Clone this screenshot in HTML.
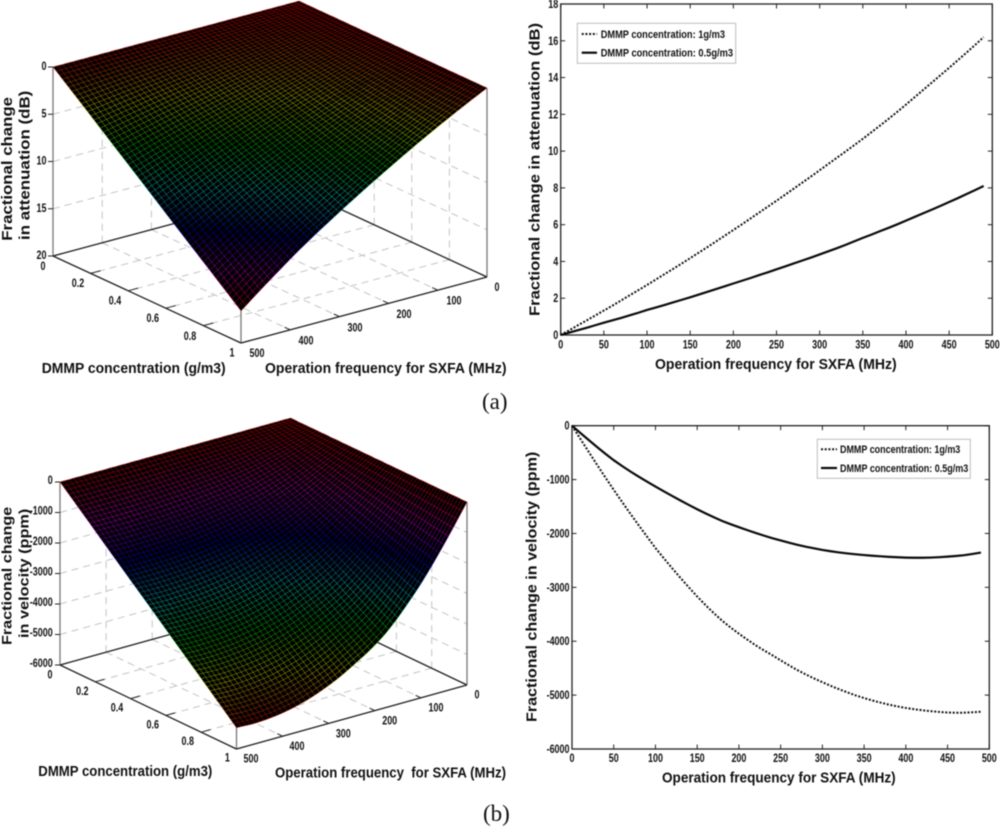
<!DOCTYPE html>
<html lang="en">
<head>
<meta charset="utf-8">
<title>DMMP fractional change charts</title>
<style>
html,body{margin:0;padding:0;background:#fff;}
svg{display:block;filter:blur(0.45px);}
text{font-family:"Liberation Sans",Arial,sans-serif;font-weight:bold;fill:#111;}
.cap{font-family:"Liberation Serif","Times New Roman",serif;font-weight:normal;}
</style>
</head>
<body>
<svg id="figure" xmlns="http://www.w3.org/2000/svg" width="1000" height="828" viewBox="0 0 1000 828">
  <rect width="1000" height="828" fill="#ffffff"/>
  <text class="cap" x="482" y="409" font-size="23">(a)</text>
  <text class="cap" x="483" y="821" font-size="23">(b)</text>
</svg>
<script>
// ---------- Data ----------
const freqSamples = [0,10,20,30,40,50,60,70,80,90,100,110,120,130,140,150,160,170,180,190,200,210,220,230,240,250,260,270,280,290,300,310,320,330,340,350,360,370,380,390,400,410,420,430,440,450,460,470,480,490];
const atten1g = [0,.26,.53,.79,1.06,1.33,1.6,1.88,2.16,2.44,2.72,3.01,3.3,3.59,3.88,4.18,4.48,4.78,5.09,5.4,5.71,6.02,6.34,6.66,6.98,7.3,7.63,7.96,8.29,8.62,8.96,9.3,9.64,9.98,10.32,10.67,11.03,11.39,11.76,12.14,12.53,12.93,13.33,13.73,14.13,14.53,14.94,15.35,15.77,16.2];
const atten05g = [0,.13,.26,.39,.53,.67,.8,.93,1.07,1.21,1.36,1.49,1.63,1.77,1.91,2.05,2.2,2.35,2.5,2.65,2.8,2.95,3.1,3.26,3.41,3.57,3.73,3.89,4.05,4.21,4.38,4.55,4.72,4.9,5.09,5.28,5.46,5.65,5.83,6.02,6.22,6.42,6.62,6.82,7.02,7.23,7.44,7.66,7.88,8.1];
const velocity1g = [0,-245,-485,-725,-960,-1190,-1415,-1635,-1850,-2060,-2270,-2460,-2645,-2825,-3000,-3170,-3330,-3480,-3620,-3745,-3860,-3970,-4075,-4170,-4260,-4355,-4447,-4535,-4615,-4690,-4760,-4828,-4890,-4950,-5005,-5055,-5100,-5140,-5178,-5210,-5238,-5262,-5282,-5298,-5312,-5322,-5327,-5326,-5318,-5308];
const velocity05g = [0,-135,-265,-395,-520,-640,-748,-850,-947,-1040,-1130,-1218,-1304,-1388,-1470,-1550,-1627,-1700,-1768,-1828,-1884,-1938,-1990,-2040,-2087,-2130,-2172,-2210,-2245,-2276,-2305,-2330,-2352,-2371,-2387,-2401,-2413,-2424,-2434,-2442,-2448,-2451,-2451,-2447,-2440,-2430,-2418,-2403,-2380,-2355];
const surfaceFreqEnd = 500;
const surfaceAttenEnd = 16.6;
const surfaceVelocityEnd = -5305;
const concSamples = [0,.017,.033,.05,.067,.083,.1,.117,.133,.15,.167,.183,.2,.217,.233,.25,.267,.283,.3,.317,.333,.35,.367,.383,.4,.417,.433,.45,.467,.483,.5,.517,.533,.55,.567,.583,.6,.617,.633,.65,.667,.683,.7,.717,.733,.75,.767,.783,.8,.817,.833,.85,.867,.883,.9,.917,.933,.95,.967,.983,1];
const freqTicks = [0,50,100,150,200,250,300,350,400,450,500];
const attenTicks = [0,2,4,6,8,10,12,14,16,18];
const velocityTicks = [0,-1000,-2000,-3000,-4000,-5000,-6000];
const surfFreqTicks = [0,100,200,300,400,500];
const surfConcTicks = [0,.2,.4,.6,.8,1];
const surfAttenTicks = [0,5,10,15,20];
const surfVelocityTicks = [0,-1000,-2000,-3000,-4000,-5000,-6000];
const legendLabels = ["DMMP concentration: 1g/m3","DMMP concentration: 0.5g/m3"];

// ---------- Helpers ----------
const NS = "http://www.w3.org/2000/svg";
const root = document.getElementById("figure");
function mk(parent, tag, attrs, name) {
  const el = document.createElementNS(NS, tag);
  for (const k in attrs) el.setAttribute(k, attrs[k]);
  
  
  parent.appendChild(el);
  return el;
}
function line(p, x1, y1, x2, y2, stroke, w, name, dash) {
  const a = {x1: x1, y1: y1, x2: x2, y2: y2, stroke: stroke, "stroke-width": w};
  if (dash) a["stroke-dasharray"] = dash;
  return mk(p, "line", a, name);
}
function tickText(p, str, x, y, anchor, name) {
  const t = mk(p, "text", {transform: "translate(" + x + "," + (y + 4) + ") scale(.78,1)", "font-size": 11.5, "text-anchor": anchor}, name);
  t.textContent = str;
  return t;
}
function title(p, str, x, y, len, size, name, rotated) {
  const a = {x: x, y: y, "font-size": size, textLength: len, lengthAdjust: "spacingAndGlyphs"};
  if (rotated) a.transform = "rotate(-90 " + x + " " + y + ")";
  const t = mk(p, "text", a, name);
  t.setAttributeNS("http://www.w3.org/XML/1998/namespace", "xml:space", "preserve");
  t.textContent = str;
  return t;
}

// ---------- 2D line chart ----------
function drawChart(c) {
  const g = mk(root, "g", {}, c.name);
  const xS = f => c.left + (f - 0) / 500 * (c.right - c.left);
  const yS = v => c.bottom - (v - c.yMin) / (c.yMax - c.yMin) * (c.bottom - c.top);
  mk(g, "rect", {x: c.left, y: c.top, width: c.right - c.left, height: c.bottom - c.top, fill: "none", stroke: "#222", "stroke-width": 1.3}, "plot-frame");
  freqTicks.forEach(f => {
    line(g, xS(f), c.bottom, xS(f), c.bottom - 4.5, "#222", 1, "x-tick");
    line(g, xS(f), c.top, xS(f), c.top + 4.5, "#222", 1, "x-tick-top");
    tickText(g, String(f), xS(f), c.xLabelY, "middle", "x-tick-label");
  });
  c.ticks.forEach(v => {
    line(g, c.left, yS(v), c.left + 4.5, yS(v), "#222", 1, "y-tick");
    line(g, c.right, yS(v), c.right - 4.5, yS(v), "#222", 1, "y-tick-right");
    tickText(g, String(v), c.left - 2.5, yS(v), "end", "y-tick-label");
  });
  const pts = arr => arr.map((v, i) => xS(freqSamples[i]).toFixed(2) + "," + yS(v).toFixed(2)).join(" ");
  mk(g, "polyline", {points: pts(c.s1), fill: "none", stroke: "#111", "stroke-width": 2, "stroke-dasharray": "2 1.7"}, "series-1g-per-m3");
  mk(g, "polyline", {points: pts(c.s2), fill: "none", stroke: "#0a0a0a", "stroke-width": 2.2}, "series-0-5g-per-m3");
  title(g, c.xTitle[0], c.xTitle[1], c.xTitle[2], c.xTitle[3], 15, "x-axis-title");
  title(g, c.yTitle[0], c.yTitle[1], c.yTitle[2], c.yTitle[3], 15, "y-axis-title", true);
  const L = c.legend;
  const lg = mk(g, "g", {}, "legend");
  mk(lg, "rect", {x: L.x, y: L.y, width: L.w, height: L.h, fill: "#fff", stroke: "#bdbdbd", "stroke-width": 1}, "legend-box");
  line(lg, L.sx1, L.ly1, L.sx2, L.ly1, "#111", 2, "legend-sample-1g", "2 1.7");
  line(lg, L.sx1, L.ly2, L.sx2, L.ly2, "#0a0a0a", 2.2, "legend-sample-0-5g");
  title(lg, legendLabels[0], L.tx, L.ly1 + 3.9, L.tw1, 11, "legend-entry-1g");
  title(lg, legendLabels[1], L.tx, L.ly2 + 3.9, L.tw2, 11, "legend-entry-0-5g");
}

// ---------- 3D surface ----------
function drawSurface(c) {
  const g = mk(root, "g", {}, c.name);
  const X = (cn, f) => c.O[0] + cn * c.cV[0] + f / 500 * c.fV[0];
  const Y = (cn, f, z) => c.O[1] + cn * c.cV[1] + f / 500 * c.fV[1] - (c.zFrac(z)) * c.H;
  const floorY = (cn, f) => c.O[1] + cn * c.cV[1] + f / 500 * c.fV[1];
  const gridC = "#c4c4c4", dash = "7 5";

  // walls and floor grid
  c.zTicks.forEach(z => {
    const d = c.zFrac(z) * c.H;
    if (d > 0.1) {
      line(g, X(0, 500), floorY(0, 500) - d, X(0, 0), floorY(0, 0) - d, gridC, 1, "wall-grid-line", dash);
      line(g, X(0, 0), floorY(0, 0) - d, X(1, 0), floorY(1, 0) - d, gridC, 1, "wall-grid-line", dash);
    }
  });
  surfFreqTicks.slice(1, -1).forEach(f => {
    line(g, X(0, f), floorY(0, f), X(0, f), floorY(0, f) - c.H, gridC, 1, "wall-grid-line", dash);
    line(g, X(0, f), floorY(0, f), X(1, f), floorY(1, f), gridC, 1, "floor-grid-line", dash);
  });
  surfConcTicks.slice(1, -1).forEach(cn => {
    line(g, X(cn, 0), floorY(cn, 0), X(cn, 0), floorY(cn, 0) - c.H, gridC, 1, "wall-grid-line", dash);
    line(g, X(cn, 0), floorY(cn, 0), X(cn, 500), floorY(cn, 500), gridC, 1, "floor-grid-line", dash);
  });

  // box edges
  line(g, X(0, 500), floorY(0, 500), X(0, 0), floorY(0, 0), "#222", 1.3, "back-floor-edge");
  line(g, X(0, 0), floorY(0, 0), X(1, 0), floorY(1, 0), "#222", 1.3, "back-floor-edge");
  line(g, X(0, 500), floorY(0, 500), X(1, 500), floorY(1, 500), "#222", 1.3, "concentration-axis");
  line(g, X(1, 500), floorY(1, 500), X(1, 0), floorY(1, 0), "#222", 1.3, "frequency-axis");
  line(g, X(0, 500), floorY(0, 500), X(0, 500), floorY(0, 500) - c.H, "#777", 1.3, "z-axis");
  line(g, X(1, 0), floorY(1, 0), X(1, 0), floorY(1, 0) - c.H, "#777", 1.3, "right-vertical-edge");
  line(g, X(1, 500), floorY(1, 500), X(1, 500), floorY(1, 500) - c.H, "#777", 1.3, "front-vertical-edge");

  // ticks and tick labels
  c.zTicks.forEach((z, i) => {
    const y = floorY(0, 500) - c.zFrac(z) * c.H;
    line(g, X(0, 500) - 5, y, X(0, 500), y, "#222", 1, "z-tick");
    tickText(g, String(z), c.zLabelX, y + c.zLabelDy, "end", "z-tick-label");
  });
  surfConcTicks.forEach((cn, i) => {
    line(g, X(cn, 500), floorY(cn, 500), X(cn, 480), floorY(cn, 480), "#222", 1, "concentration-tick");
    tickText(g, String(cn), c.cLabels[i][0], c.cLabels[i][1], "middle", "concentration-tick-label");
  });
  surfFreqTicks.forEach((f, i) => {
    line(g, X(1, f), floorY(1, f), X(.97, f), floorY(.97, f), "#222", 1, "frequency-tick");
    tickText(g, String(f), c.fLabels[i][0], c.fLabels[i][1], "middle", "frequency-tick-label");
  });

  // surface silhouette
  const n = c.freqs.length - 1, m = concSamples.length - 1;
  const zAt = (j, i) => concSamples[j] * c.resp[i];
  const outline = [];
  for (let i = 0; i <= n; i++) outline.push([0, i]);
  for (let j = 0; j <= m; j++) outline.push([j, n]);
  for (let i = n; i >= 0; i--) outline.push([m, i]);
  for (let j = m; j >= 0; j--) outline.push([j, 0]);
  mk(g, "polygon", {
    points: outline.map(p => X(concSamples[p[0]], c.freqs[p[1]]).toFixed(2) + "," + Y(concSamples[p[0]], c.freqs[p[1]], zAt(p[0], p[1])).toFixed(2)).join(" "),
    fill: "#000"
  }, "surface-face");

  // mesh lines, grouped by hue
  const bins = {};
  const seg = (j1, i1, j2, i2) => {
    const z = (zAt(j1, i1) + zAt(j2, i2)) / 2;
    const h = Math.round(c.hue(z) / 5) * 5 % 360;
    const s = "M" + X(concSamples[j1], c.freqs[i1]).toFixed(1) + " " + Y(concSamples[j1], c.freqs[i1], zAt(j1, i1)).toFixed(1) +
              "L" + X(concSamples[j2], c.freqs[i2]).toFixed(1) + " " + Y(concSamples[j2], c.freqs[i2], zAt(j2, i2)).toFixed(1);
    bins[h] = (bins[h] || "") + s;
  };
  for (let j = 0; j <= m; j++) for (let i = 0; i < n; i++) seg(j, i, j, i + 1);
  for (let i = 0; i <= n; i++) for (let j = 0; j < m; j++) seg(j, i, j + 1, i);
  Object.keys(bins).forEach(h => {
    mk(g, "path", {d: bins[h], fill: "none", stroke: "hsl(" + h + ",100%,50%)", "stroke-width": .55, "stroke-opacity": .55}, "surface-mesh-band");
  });

  c.titles.forEach(t => title(g, t[0], t[1], t[2], t[3], t[4], t[5], t[6]));
}

// ---------- Panels ----------
drawSurface({
  name: "surface-plot-attenuation",
  O: [299, 190], cV: [188, 87], fV: [-246, 66], H: 189,
  zFrac: z => (20 - z) / 20,
  zTicks: surfAttenTicks, zLabelX: 46.5, zLabelDy: -1,
  freqs: freqSamples.concat([surfaceFreqEnd]),
  resp: atten1g.concat([surfaceAttenEnd]),
  hue: z => Math.min(359, 360 * z / 16.6),
  cLabels: [[43, 266], [78, 283], [115, 300.7], [152.7, 318], [190, 336], [232, 352.7]],
  fLabels: [[497, 287], [454, 300.7], [404, 314], [355, 327.7], [306, 340.7], [257, 353]],
  titles: [
    ["DMMP concentration (g/m3)", 41.7, 373, 184, 15, "concentration-axis-title"],
    ["Operation frequency for SXFA (MHz)", 265, 373, 241.5, 15, "frequency-axis-title"],
    ["Fractional change", 12, 240.7, 143.7, 14.5, "z-axis-title-line-1", true],
    ["in attenuation (dB)", 29.3, 240, 149.3, 14.5, "z-axis-title-line-2", true]
  ]
});
drawSurface({
  name: "surface-plot-velocity",
  O: [290.5, 601], cV: [176.5, 84], fV: [-230.5, 64], H: 183,
  zFrac: z => (z + 6000) / 6000,
  zTicks: surfVelocityTicks, zLabelX: 52.7, zLabelDy: -2,
  freqs: freqSamples.concat([surfaceFreqEnd]),
  resp: velocity1g.concat([surfaceVelocityEnd]),
  hue: z => (360 - 360 * Math.abs(z) / 5327 + 360) % 360,
  cLabels: [[50, 674.3], [82.3, 691], [117, 707.3], [152.7, 724.3], [187.7, 741], [227.3, 757.3]],
  fLabels: [[477, 694.7], [436, 707.3], [389.7, 720.7], [343.3, 733.3], [297, 746], [251, 758.3]],
  titles: [
    ["DMMP concentration (g/m3)", 38.3, 776, 174, 14.5, "concentration-axis-title"],
    ["Operation frequency  for SXFA (MHz)", 275, 777.3, 231, 14.5, "frequency-axis-title"],
    ["Fractional change", 11.7, 645, 138.3, 14, "z-axis-title-line-1", true],
    ["in velocity (ppm)", 28.3, 638, 129.3, 14, "z-axis-title-line-2", true]
  ]
});
drawChart({
  name: "line-chart-attenuation",
  left: 560.7, right: 992.3, top: 4, bottom: 335, yMin: 0, yMax: 18,
  ticks: attenTicks, xLabelY: 344.5, s1: atten1g, s2: atten05g,
  xTitle: ["Operation frequency for SXFA (MHz)", 655, 369, 241.7],
  yTitle: ["Fractional change in attenuation (dB)", 539.3, 316, 293],
  legend: {x: 577.3, y: 23.3, w: 158.4, h: 40, sx1: 581.7, sx2: 597, ly1: 34, ly2: 52.7, tx: 600.7, tw1: 124.3, tw2: 132.3}
});
drawChart({
  name: "line-chart-velocity",
  left: 572, right: 989.3, top: 425.7, bottom: 749, yMin: -6000, yMax: 0,
  ticks: velocityTicks, xLabelY: 758, s1: velocity1g, s2: velocity05g,
  xTitle: ["Operation frequency for SXFA (MHz)", 662, 782.7, 233.7],
  yTitle: ["Fractional change in velocity (ppm)", 536.7, 722, 270.3],
  legend: {x: 817.3, y: 439.3, w: 153, h: 39, sx1: 821, sx2: 837, ly1: 449.3, ly2: 468, tx: 840, tw1: 120.3, tw2: 128.3}
});
</script>
</body>
</html>
